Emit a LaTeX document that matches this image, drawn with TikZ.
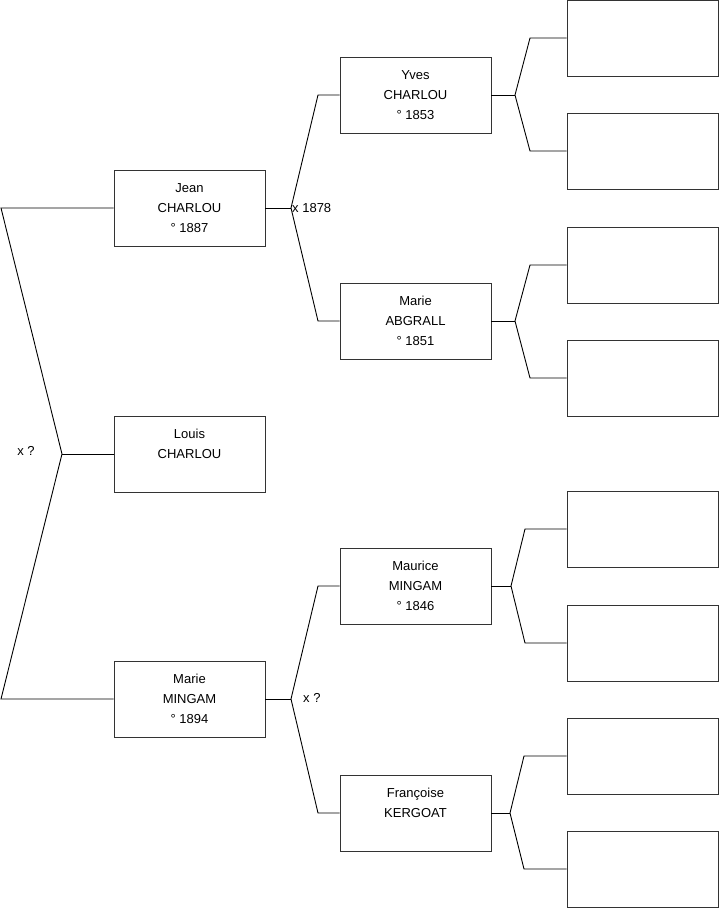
\documentclass[tikz,border=0pt]{standalone}
\usepackage{fontspec}
\setmainfont{Liberation Sans}
\usepackage{tikz}

\begin{document}
\begin{tikzpicture}[
    x=1pt, y=-1pt,
    every node/.style={font=\fontsize{13}{20}\selectfont},
    person/.style={rectangle, draw=black!80, line width=0.9pt, minimum width=151pt, minimum height=76pt, inner sep=0pt, align=center},
    link/.style={draw=black, line width=0.9pt},
    mark label/.style={inner sep=1pt} % Style für die Heiratsdaten
]
\useasboundingbox (0,0) rectangle (719,908);

% Generation 1 und 2
\node[person] (jean) at (189.5,208) {Jean\\CHARLOU\\° 1887};
\node[person] (louis) at (189.5,454) {Louis\\CHARLOU\\~};
\node[person] (marie) at (189.5,699) {Marie\\MINGAM\\° 1894};

% Generation 3
\node[person] (yves) at (415.5,95) {Yves\\CHARLOU\\° 1853};
\node[person] (abgrall) at (415.5,321) {Marie\\ABGRALL\\° 1851};
\node[person] (maurice) at (415.5,586) {Maurice\\MINGAM\\° 1846};
\node[person] (francoise) at (415.5,813) {Françoise\\KERGOAT\\~};

% Generation 4 (leer)
\node[person] (e1) at (642.5,38) {};
\node[person] (e2) at (642.5,151) {};
\node[person] (e3) at (642.5,265) {};
\node[person] (e4) at (642.5,378) {};
\node[person] (e5) at (642.5,529) {};
\node[person] (e6) at (642.5,643) {};
\node[person] (e7) at (642.5,756) {};
\node[person] (e8) at (642.5,869) {};

% Gabelungen
\coordinate (fl) at (62,454);
\coordinate (flt) at (1,208);
\coordinate (flb) at (1,699);
\draw[link] (jean.west) -- (flt) -- (fl) -- (flb) -- (marie.west);
\draw[link] (fl) -- (louis.west);
\node[mark label] (m0) at (26,451) {x ?};

\coordinate (fj) at (291,208);
\draw[link] (jean.east) -- (fj);
\draw[link] (yves.west) -- (318,95) -- (fj) -- (318,321) -- (abgrall.west);
\node[mark label, anchor=west] (m1) at (fj) {x 1878};

\coordinate (fm) at (291,699);
\draw[link] (marie.east) -- (fm);
\draw[link] (maurice.west) -- (318,586) -- (fm) -- (318,813) -- (francoise.west);
\node[mark label, anchor=west] (m2) at (302,698) {x ?};

\coordinate (fy) at (515,95);
\draw[link] (yves.east) -- (fy);
\draw[link] (e1.west) -- (530,38) -- (fy) -- (530,151) -- (e2.west);

\coordinate (fa) at (515,321);
\draw[link] (abgrall.east) -- (fa);
\draw[link] (e3.west) -- (530,265) -- (fa) -- (530,378) -- (e4.west);

\coordinate (fmm) at (511,586);
\draw[link] (maurice.east) -- (fmm);
\draw[link] (e5.west) -- (525,529) -- (fmm) -- (525,643) -- (e6.west);

\coordinate (ff) at (510,813);
\draw[link] (francoise.east) -- (ff);
\draw[link] (e7.west) -- (524,756) -- (ff) -- (524,869) -- (e8.west);

\end{tikzpicture}
\end{document}
